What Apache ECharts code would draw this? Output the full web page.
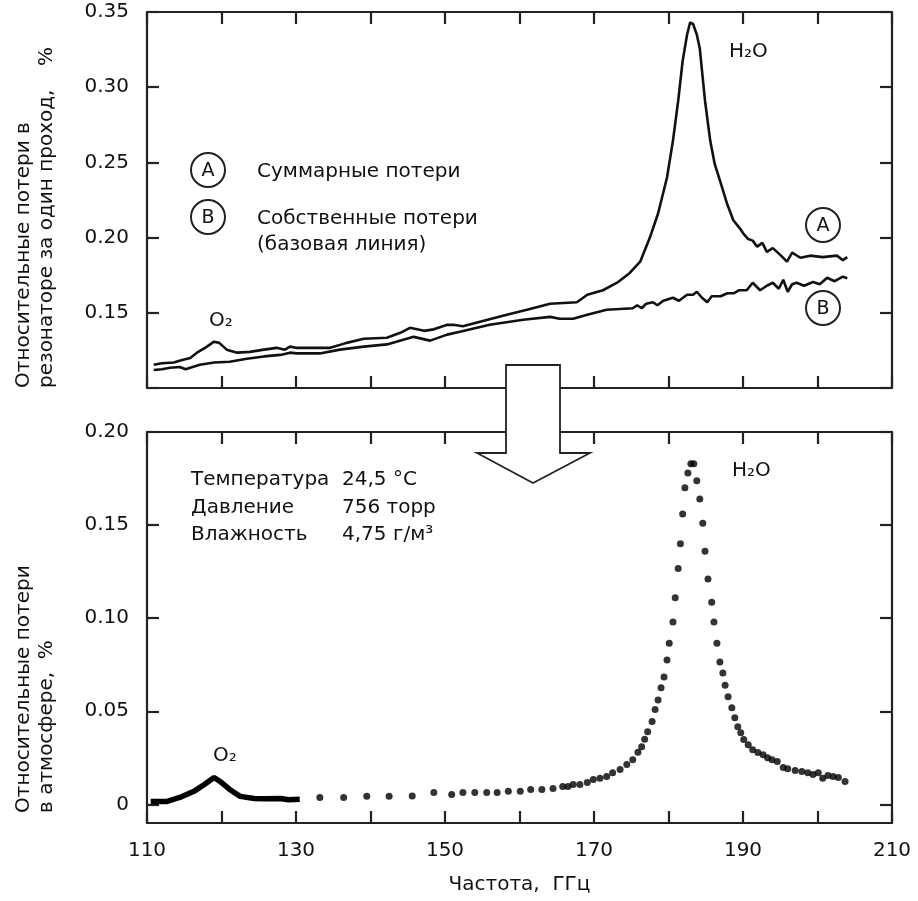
<!DOCTYPE html>
<html>
<head>
<meta charset="utf-8">
<script src="https://cdn.jsdelivr.net/npm/echarts@6/dist/echarts.min.js"></script>
<style>
html,body{margin:0;padding:0;background:#fff;}
#chart{width:918px;height:901px;}
</style>
</head>
<body>
<div id="chart"></div>
<script>
// ---- Top panel: curve A (total losses) ----
const freqA = [110.9,112.0,113.6,114.6,115.8,116.7,117.8,119.0,119.7,120.7,122.1,123.8,125.7,127.4,128.5,129.2,130.0,132.4,134.6,136.8,139.1,142.2,144.0,145.3,147.2,148.5,150.3,151.1,152.4,154.7,158.3,161.0,164.1,167.7,169.1,171.2,173.1,174.8,176.2,177.5,178.6,179.8,180.6,181.3,181.9,182.5,182.9,183.3,183.8,184.2,184.9,185.6,186.2,186.9,187.9,188.7,189.6,190.0,190.7,191.3,191.9,192.6,193.2,194.0,195.0,195.9,196.6,197.7,199.0,200.7,202.6,203.4,204.0];
const lossA = [0.1155,0.1165,0.117,0.1185,0.120,0.1235,0.1267,0.1308,0.130,0.1255,0.1235,0.124,0.1255,0.1267,0.1255,0.1275,0.1267,0.1267,0.1267,0.130,0.1327,0.1334,0.1367,0.140,0.138,0.139,0.142,0.142,0.141,0.144,0.1487,0.152,0.156,0.157,0.162,0.165,0.170,0.1765,0.184,0.200,0.216,0.240,0.2645,0.291,0.3175,0.335,0.343,0.342,0.335,0.3257,0.291,0.2645,0.249,0.238,0.222,0.2115,0.206,0.203,0.199,0.198,0.194,0.1965,0.1905,0.193,0.1885,0.184,0.190,0.1866,0.188,0.187,0.188,0.185,0.187];
// ---- Top panel: curve B (baseline) ----
const freqB = [110.9,112.0,113.1,114.4,115.2,115.8,117.1,119.0,121.1,123.4,125.7,127.9,129.2,130.1,133.2,135.9,139.1,142.2,145.8,148.0,150.3,152.0,156.0,160.5,164.1,165.4,167.2,169.1,171.7,175.2,175.8,176.4,177.0,177.9,178.5,179.3,180.6,181.4,182.5,183.3,183.8,184.5,185.2,185.8,187.0,187.9,188.8,189.5,190.5,191.3,192.3,193.2,194.0,194.8,195.4,196.0,196.6,197.2,198.2,199.4,200.3,201.3,202.3,203.4,204.0];
const lossB = [0.112,0.1125,0.1135,0.114,0.1125,0.1135,0.1155,0.117,0.1175,0.1195,0.121,0.122,0.1235,0.123,0.123,0.1255,0.1275,0.129,0.134,0.1315,0.1355,0.1374,0.142,0.1454,0.1473,0.146,0.146,0.1487,0.152,0.153,0.155,0.153,0.156,0.157,0.155,0.158,0.160,0.158,0.162,0.162,0.164,0.160,0.157,0.161,0.161,0.163,0.163,0.165,0.165,0.170,0.165,0.168,0.170,0.166,0.172,0.164,0.169,0.170,0.168,0.1705,0.169,0.1733,0.171,0.174,0.173];
// ---- Bottom panel: O2 band (dense measurement) ----
const freqO2 = [110.5,112.7,114.4,116.3,117.7,119.0,119.8,121.1,122.5,124.4,126.0,127.9,129.0,130.5];
const lossO2 = [0.0016,0.0016,0.0037,0.007,0.0107,0.0144,0.0123,0.008,0.0043,0.0032,0.003,0.0032,0.0025,0.0027];
// ---- Bottom panel: atmospheric loss points ----
const freqAtm = [133.2,136.4,139.5,142.5,145.6,148.5,150.9,152.4,154.0,155.6,157.0,158.5,160.1,161.5,163.0,164.5,165.8,166.5,167.2,168.1,169.1,169.9,170.8,171.7,172.5,173.5,174.4,175.2,175.9,176.4,176.8,177.2,177.8,178.2,178.6,179.0,179.4,179.8,180.1,180.6,180.9,181.3,181.6,181.9,182.2,182.6,183.0,183.4,183.8,184.2,184.6,184.9,185.3,185.8,186.1,186.5,186.9,187.3,187.6,188.0,188.5,188.9,189.3,189.7,190.1,190.7,191.3,192.0,192.7,193.3,193.9,194.6,195.4,196.0,197.0,197.9,198.7,199.4,200.1,200.7,201.4,202.1,202.8,203.7];
const lossAtm = [0.0037,0.0037,0.0043,0.0043,0.0045,0.0064,0.0053,0.0064,0.0064,0.0064,0.0064,0.007,0.007,0.008,0.008,0.0085,0.0096,0.0096,0.0107,0.0107,0.0118,0.0134,0.014,0.015,0.017,0.0187,0.0214,0.024,0.028,0.031,0.035,0.039,0.0445,0.051,0.056,0.0626,0.0684,0.0775,0.0866,0.098,0.111,0.1267,0.140,0.156,0.170,0.178,0.183,0.183,0.1738,0.164,0.151,0.136,0.121,0.1085,0.098,0.0866,0.0765,0.0706,0.064,0.0578,0.0519,0.0465,0.0417,0.0385,0.0348,0.032,0.0294,0.0278,0.0267,0.025,0.024,0.023,0.0198,0.0192,0.0182,0.0176,0.017,0.016,0.017,0.014,0.0155,0.015,0.0144,0.0123];
// ---- Tick values / labels ----
const xTickValues = [110,120,130,140,150,160,170,180,190,200,210];
const xLabelValues = [110,130,150,170,190,210];
const topYTickValues = [0.10,0.15,0.20,0.25,0.30,0.35];
const topYLabelValues = [0.15,0.20,0.25,0.30,0.35];
const botYTickValues = [0,0.05,0.10,0.15,0.20];

const FONT = 'DejaVu Sans';
const INK = '#111';
const FRAME = '#222';

function pairs(xs, ys){ return xs.map((x,i)=>[x, ys[i]]); }
function yFmt(v){ return Math.abs(v) < 1e-9 ? '0' : v.toFixed(2); }

function lineCommon(){ return { show:true, onZero:false, lineStyle:{ color:FRAME, width:2.2 } }; }
function tickCommon(vals){ return { show:true, inside:true, length:12, customValues:vals, lineStyle:{ color:FRAME, width:2.2 } }; }
function labelCommon(){ return { color:INK, fontSize:20, fontFamily:FONT }; }

function xAx(grid, pos, withLabels){
  return {
    type:'value', gridIndex:grid, position:pos, min:110, max:210, interval:10,
    axisLine: lineCommon(), axisTick: tickCommon(xTickValues), splitLine:{show:false},
    axisLabel: withLabels ? Object.assign({ margin:18, customValues:xLabelValues }, labelCommon()) : { show:false }
  };
}

const option = {
  animation:false,
  backgroundColor:'#fff',
  textStyle:{ fontFamily:FONT },
  grid:[
    { left:147, right:26, top:12, bottom:513 },
    { left:147, right:26, top:432, bottom:78 }
  ],
  xAxis:[
    xAx(0,'bottom',false),
    xAx(0,'top',false),
    Object.assign(xAx(1,'bottom',true), {
      name:'Частота,  ГГц', nameLocation:'middle', nameGap:52,
      nameTextStyle:{ color:INK, fontSize:20, fontFamily:FONT }
    }),
    xAx(1,'top',false)
  ],
  yAxis:[
    { type:'value', gridIndex:0, position:'left', min:0.10, max:0.35, interval:0.05,
      axisLine:lineCommon(), axisTick:tickCommon(topYTickValues), splitLine:{show:false},
      axisLabel:Object.assign({ margin:18, padding:[6,0,0,0], customValues:topYLabelValues, formatter:yFmt }, labelCommon()) },
    { type:'value', gridIndex:0, position:'right', min:0.10, max:0.35, interval:0.05,
      axisLine:lineCommon(), axisTick:tickCommon(topYTickValues), splitLine:{show:false}, axisLabel:{show:false} },
    { type:'value', gridIndex:1, position:'left', min:-0.01, max:0.20,
      axisLine:lineCommon(), axisTick:tickCommon(botYTickValues), splitLine:{show:false},
      axisLabel:Object.assign({ margin:18, padding:[6,0,0,0], customValues:botYTickValues, formatter:yFmt }, labelCommon()) },
    { type:'value', gridIndex:1, position:'right', min:-0.01, max:0.20,
      axisLine:lineCommon(), axisTick:tickCommon(botYTickValues), splitLine:{show:false},
      axisLabel:{show:false} }
  ],
  series:[
    { name:'A', type:'line', xAxisIndex:0, yAxisIndex:0, data:pairs(freqA, lossA),
      showSymbol:false, symbol:'none', lineStyle:{ color:INK, width:2.6 }, z:3 },
    { name:'B', type:'line', xAxisIndex:0, yAxisIndex:0, data:pairs(freqB, lossB),
      showSymbol:false, symbol:'none', lineStyle:{ color:INK, width:2.6 }, z:3 },
    { name:'O2', type:'line', xAxisIndex:2, yAxisIndex:2, data:pairs(freqO2, lossO2),
      showSymbol:false, symbol:'none', lineStyle:{ color:'#000', width:5.5 }, z:3 },
    { name:'atm', type:'scatter', xAxisIndex:2, yAxisIndex:2, data:pairs(freqAtm, lossAtm),
      symbol:'circle', symbolSize:7, itemStyle:{ color:'#000' }, z:3 }
  ],
  graphic:[]
};

function txt(x, y, text, opts){
  opts = opts || {};
  return {
    type:'text', x:x, y:y, rotation:opts.rotation || 0, z:100,
    style:{
      text:text, fill:opts.fill || INK,
      fontSize:opts.fontSize || 20, fontFamily:FONT,
      align:opts.align || 'left', verticalAlign:opts.va || 'middle',
      textAlign:opts.align || 'left', textVerticalAlign:opts.va || 'middle'
    }
  };
}
function badge(cx, cy, letter){
  return [
    { type:'circle', z:100, shape:{ cx:cx, cy:cy, r:17 }, style:{ fill:'#fff', stroke:FRAME, lineWidth:2 } },
    txt(cx, cy+1, letter, { align:'center', fontSize:19 })
  ];
}

const g = [];
// arrow
g.push({ type:'polygon', z:200,
  shape:{ points:[[506,365],[560,365],[560,453],[590,453],[533,483],[477,453],[506,453]] },
  style:{ fill:'#fff', stroke:FRAME, lineWidth:1.8 } });
// legend badges
g.push(...badge(208,170,'A'));
g.push(...badge(208,217,'B'));
g.push(...badge(823,225,'A'));
g.push(...badge(823,308,'B'));
g.push(txt(257,172,'Суммарные потери'));
g.push(txt(257,219,'Собственные потери'));
g.push(txt(257,245,'(базовая линия)'));
// peak labels
g.push(txt(209,321,'O₂'));
g.push(txt(729,52,'H₂O'));
g.push(txt(213,756,'O₂'));
g.push(txt(732,471,'H₂O'));
// conditions
g.push(txt(191,480,'Температура'));
g.push(txt(191,508,'Давление'));
g.push(txt(191,535,'Влажность'));
g.push(txt(342,480,'24,5 °С'));
g.push(txt(342,508,'756 торр'));
g.push(txt(342,535,'4,75 г/м³'));
// y-axis titles (rotated)
const R = Math.PI/2;
g.push(txt(24,388,'Относительные потери в', { rotation:R, fontSize:20 }));
g.push(txt(47,388,'резонаторе за один проход,', { rotation:R, fontSize:20 }));
g.push(txt(47,66,'%', { rotation:R, fontSize:20 }));
g.push(txt(24,813,'Относительные потери', { rotation:R, fontSize:20 }));
g.push(txt(47,813,'в атмосфере,  %', { rotation:R, fontSize:20 }));
option.graphic = g;

const chart = echarts.init(document.getElementById('chart'), null, { renderer:'canvas', width:918, height:901 });
chart.setOption(option);
</script>
</body>
</html>
